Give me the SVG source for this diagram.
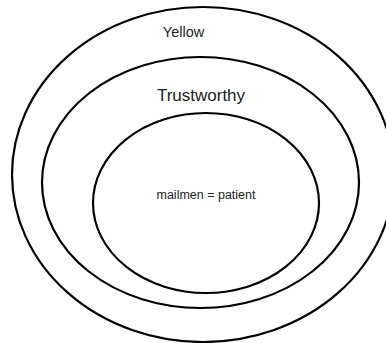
<svg xmlns="http://www.w3.org/2000/svg" width="386" height="343" viewBox="0 0 386 343">
<style>
.ring{fill:none;stroke:#000;stroke-width:2.2}
.lbl{font-family:"Liberation Sans",Arial,sans-serif;fill:#222;text-anchor:middle}
</style>
<rect width="386" height="343" fill="#fff"/>
<g id="yellow">
<ellipse class="ring" cx="203" cy="174.5" rx="191" ry="167.5"/>
<text class="lbl" x="183.5" y="37" font-size="14.5">Yellow</text>
</g>
<g id="trustworthy">
<ellipse class="ring" cx="200.5" cy="182.5" rx="158.5" ry="125.5"/>
<text class="lbl" x="201" y="101" font-size="17">Trustworthy</text>
</g>
<g id="mailmen">
<ellipse class="ring" cx="206" cy="203" rx="113" ry="90"/>
<text class="lbl" x="206" y="198.5" font-size="12.5">mailmen = patient</text>
</g>
<g id="connectors"/>
</svg>
